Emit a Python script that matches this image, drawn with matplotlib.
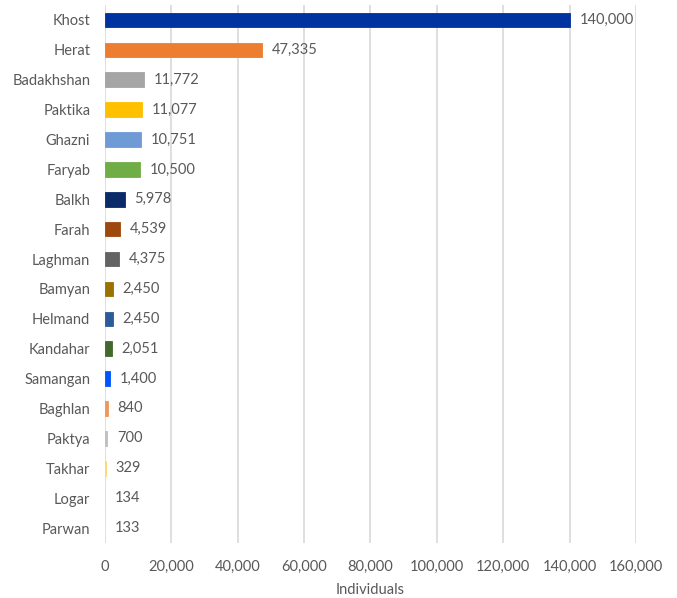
import matplotlib
matplotlib.use("Agg")
import matplotlib.pyplot as plt
from matplotlib.ticker import FuncFormatter

provinces = ["Khost", "Herat", "Badakhshan", "Paktika", "Ghazni", "Faryab", "Balkh", "Farah",
             "Laghman", "Bamyan", "Helmand", "Kandahar", "Samangan", "Baghlan", "Paktya",
             "Takhar", "Logar", "Parwan"]
individuals = [140000, 47335, 11772, 11077, 10751, 10500, 5978, 4539, 4375, 2450, 2450,
               2051, 1400, 840, 700, 329, 134, 133]
bar_colors = ["#0033A0", "#ED7D31", "#A5A5A5", "#FFC000", "#6E9BD6", "#70AD47", "#0B2A6A",
              "#9E480E", "#636363", "#997300", "#2B5C99", "#43682B", "#0055FF", "#F1975A",
              "#BFBFBF", "#FFD966", "#D6DEEF", "#E4E4E4"]
x_ticks = [0, 20000, 40000, 60000, 80000, 100000, 120000, 140000, 160000]

plt.rcParams['font.family'] = ['Lato', 'DejaVu Sans']
txt = "#595959"

fig = plt.figure(figsize=(6.77, 5.98), dpi=100)
ax = fig.add_axes([0.155, 0.092, 0.7845, 0.8996])

y = list(range(len(provinces)))
ax.barh(y, individuals, height=0.49, color=bar_colors, edgecolor=bar_colors,
        linewidth=0.6, zorder=3)
for yi, v in zip(y, individuals):
    ax.annotate(f"{v:,}", xy=(v, yi), xytext=(7, 0), textcoords="offset points",
                va="center", ha="left", fontsize=10.5, color=txt)

ax.set_ylim(len(provinces) - 0.5, -0.5)
ax.set_yticks(y)
ax.set_yticklabels(provinces)
ax.set_xlim(0, 160000)
ax.set_xticks(x_ticks)
ax.xaxis.set_major_formatter(FuncFormatter(lambda v, p: f"{int(v):,}"))
ax.grid(axis="x", color="#D9D9D9", linewidth=1.2, zorder=0)
for s in ax.spines.values():
    s.set_visible(False)
ax.tick_params(axis="both", length=0, labelsize=10.5, labelcolor=txt)
ax.tick_params(axis="y", pad=10.5)
ax.tick_params(axis="x", pad=12)
ax.set_xlabel("Individuals", fontsize=10.5, color=txt, labelpad=7)

fig.savefig("out.png", dpi=100)
